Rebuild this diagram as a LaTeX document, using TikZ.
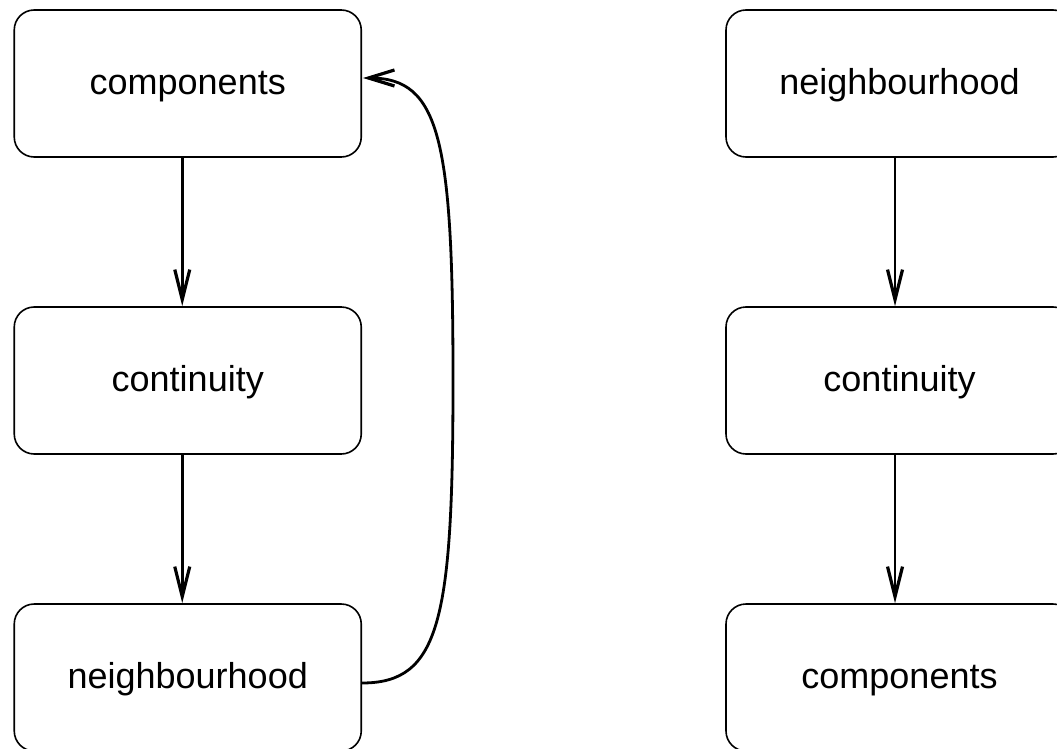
\documentclass[tikz,border=0pt]{standalone}
\usepackage{fontspec}
\setmainfont{Liberation Sans}
\usetikzlibrary{arrows.meta,calc}
\begin{document}
\begin{tikzpicture}[x=1pt,y=-1pt,
  box/.style={draw, line width=1.6pt, rounded corners=20pt, minimum width=347pt, minimum height=147pt, inner sep=0pt, text height=30pt, text depth=8pt, font=\fontsize{36}{43}\selectfont},
  arr/.style={line width=2.6pt, -{Straight Barb[length=30pt,width=15pt,line width=3.2pt]}},
  curv/.style={line width=2.8pt, -{Straight Barb[length=26pt,width=16pt,line width=3.2pt]}}]
\useasboundingbox (0,0) rectangle (1057,749);
\clip (0,0) rectangle (1057,749);
\node[box] (l1) at (187.75,83.5) {components};
\node[box] (l2) at (187.75,380.5) {continuity};
\node[box] (l3) at (187.75,677.5) {neighbourhood};
\node[box] (r1) at (899.5,83.5) {neighbourhood};
\node[box] (r2) at (899.5,380.5) {continuity};
\node[box] (r3) at (899.5,677.5) {components};
\draw[arr] ($(l1.south)+(-5.5,0)$) -- ($(l2.north)+(-5.5,0)$);
\draw[arr] ($(l2.south)+(-5.5,0)$) -- ($(l3.north)+(-5.5,0)$);
\draw[arr] ($(r1.south)+(-4.5,0)$) -- ($(r2.north)+(-4.5,0)$);
\draw[arr] ($(r2.south)+(-4.5,0)$) -- ($(r3.north)+(-4.5,0)$);
\coordinate (mid) at (453,380);
\draw[curv] ($(l3.east)+(0,5.5)$) .. controls (440,683) and (453,620) .. (mid)
  .. controls (453,140) and (440,78) .. ($(l1.east)+(1,-5.5)$);
\end{tikzpicture}
\end{document}
